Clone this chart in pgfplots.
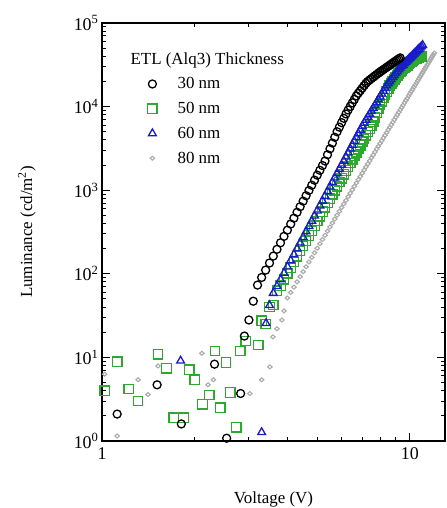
\documentclass[border=0pt]{standalone}
\usepackage{pgfplots}
\pgfplotsset{compat=1.18}
\usepackage{fontspec}
\setmainfont{Liberation Serif}
\definecolor{cgreen}{RGB}{45,170,45}
\definecolor{cblue}{RGB}{25,25,205}
\definecolor{cgray}{RGB}{170,170,170}
\begin{document}
\begin{tikzpicture}
\useasboundingbox (-102bp,-67bp) rectangle (345bp,441bp);
\begin{axis}[
  at={(0,0)}, anchor=south west,
  scale only axis, width=343bp, height=418bp,
  xmode=log, ymode=log,
  xmin=1, xmax=13, ymin=1, ymax=100000,
  xtick={1,10}, xticklabels={1,10},
  minor xtick={2,3,4,5,6,7,8,9},
  ytick={1,10,100,1000,10000,100000},
  yticklabels={10\textsuperscript{0},10\textsuperscript{1},10\textsuperscript{2},10\textsuperscript{3},10\textsuperscript{4},10\textsuperscript{5}},
  minor ytick={2,3,4,5,6,7,8,9,20,30,40,50,60,70,80,90,200,300,400,500,600,700,800,900,2000,3000,4000,5000,6000,7000,8000,9000,20000,30000,40000,50000,60000,70000,80000,90000},
  tick align=inside,
  major tick length=8bp, minor tick length=4.5bp,
  every tick/.style={black, line width=1bp},
  axis line style={line width=1.3bp},
  font=\fontsize{17}{20}\selectfont,
  ticklabel style={font=\fontsize{18}{20}\selectfont},
  xticklabel style={yshift=-3bp},
  xlabel={Voltage (V)},
  ylabel={Luminance (cd/m\textsuperscript{2})},
  xlabel style={at={(axis description cs:0.5,-0.139)}, anchor=center},
  ylabel style={at={(axis description cs:-0.219,0.5)}, anchor=center},
  legend image code/.code={\draw[mark repeat=2,mark phase=2,#1] plot coordinates {(0cm,0cm) (0.3cm,0cm) (0.6cm,0cm)}; \path (0cm,0cm) (1.11cm,0cm);},
  legend style={at={(axis description cs:0.121,0.935)}, anchor=north west, draw=none, fill=none, inner sep=0pt, row sep=8bp, font=\fontsize{17}{20}\selectfont, nodes={inner sep=2pt}},
  legend cell align=left,
]
% 80 nm (gray)
\addplot[only marks, mark=diamond, mark size=3bp, cgray, mark options={line width=1.1bp, yscale=0.65}, forget plot] coordinates {
(1.02,6.3) (1.12,1.15) (1.31,5.4) (1.41,3.6) (1.52,7.9) (2.11,11.2) (2.21,4.7) (2.30,5.4) (3.02,3.7) (3.30,5.4) (3.51,7.7) (3.59,17.6) (3.7,22) (3.84,28) (3.9,36)
(4.0,51.4) (4.1,59.8) (4.2,69.3) (4.3,80.2) (4.4,92.3) (4.5,105.9) (4.6,121.3) (4.7,138.4) (4.8,157.4) (4.9,178.6)
(5.0,202.3) (5.1,228.6) (5.2,257.0) (5.3,289.1) (5.4,324.3) (5.5,363.1) (5.6,405.5) (5.7,451.9) (5.8,502.3) (5.9,558.5)
(6.0,619.4) (6.1,685.5) (6.2,756.8) (6.3,835.6) (6.4,920.4) (6.5,1012) (6.6,1112) (6.7,1219) (6.8,1337) (6.9,1459)
(7.0,1596) (7.1,1742) (7.2,1897) (7.3,2065) (7.4,2244) (7.5,2438) (7.6,2642) (7.7,2864) (7.8,3105) (7.9,3350)
(8.0,3622) (8.1,3908) (8.2,4217) (8.3,4539) (8.4,4887) (8.5,5260) (8.6,5649) (8.7,6067) (8.8,6501) (8.9,6966)
(9.0,7464) (9.1,7980) (9.2,8551) (9.3,9141) (9.4,9750) (9.5,10400) (9.6,11090) (9.7,11830) (9.8,12590) (9.9,13400)
(10.0,14260) (10.1,15140) (10.2,16110) (10.3,17100) (10.4,18110) (10.5,19230) (10.6,20370) (10.7,21630) (10.8,22860) (10.9,24210)
(11.0,25590) (11.1,27040) (11.2,28580) (11.3,30200) (11.4,31840) (11.5,33650) (11.6,35480) (11.7,37410) (11.8,39450) (11.9,41500) (12.0,43650)
};
% 50 nm (green)
\addplot[only marks, mark=square, mark size=4.7bp, cgreen, mark options={line width=1.3bp}, forget plot] coordinates {
(1.02,4.0) (1.12,8.9) (1.22,4.2) (1.31,3.0) (1.52,10.9) (1.62,7.4) (1.71,1.9) (1.84,1.9) (1.92,7.1) (2.0,5.4)
(2.12,2.75) (2.23,3.55) (2.33,11.9) (2.42,2.5) (2.53,8.7) (2.61,3.8) (2.73,1.46) (2.81,11.9) (2.93,15.7) (3.22,14.1)
(3.30,27.5) (3.4,25) (3.5,40) (3.6,42.4) (3.7,63) (3.8,72.4) (3.9,85.7)
(4.0,101.2) (4.1,118.6) (4.2,138.4) (4.3,161.4) (4.4,187.1) (4.5,216.3) (4.6,249.5) (4.7,287.1) (4.8,328.1) (4.9,375.8)
(5.0,428.5) (5.1,486.4) (5.2,552) (5.3,623.7) (5.4,704.7) (5.5,792.5) (5.6,891.3) (5.7,1000) (5.8,1117) (5.9,1250)
(6.0,1393) (6.1,1549) (6.2,1722) (6.3,1910) (6.4,2113) (6.5,2339) (6.6,2576) (6.7,2844) (6.8,3126) (6.9,3436)
(7.0,3776) (7.1,4140) (7.2,4529) (7.3,4955) (7.4,5408) (7.5,5902) (7.6,6592) (7.7,7430) (7.8,8356) (7.9,9397)
(8.0,10540) (8.1,11530) (8.2,12620) (8.3,13800) (8.4,15070) (8.5,16440) (8.6,17910) (8.7,19010) (8.8,20090) (8.9,21230)
(9.0,22390) (9.1,23600) (9.2,24890) (9.3,26120) (9.4,27100) (9.5,28120) (9.6,29110) (9.7,30130) (9.8,31190) (9.9,32280)
(10.0,33420) (10.1,34590) (10.2,35730) (10.3,36480) (10.4,37070) (10.5,37670) (10.6,38280) (10.7,38820) (10.8,39450) (10.9,39990)
};
% 60 nm (blue)
\addplot[only marks, mark=triangle, mark size=4.5bp, cblue, mark options={line width=1.3bp}, forget plot] coordinates {
(1.80,9.1) (3.30,1.27) (3.41,25.6) (3.5,42) (3.6,58.7) (3.7,71.0) (3.8,85.3) (3.9,102.1)
(4.0,121.6) (4.1,144.2) (4.2,170.2) (4.3,200.4) (4.4,235) (4.5,274) (4.6,320) (4.7,371) (4.8,428) (4.9,494)
(5.0,569) (5.1,652) (5.2,745) (5.3,851) (5.4,968) (5.5,1099) (5.6,1245) (5.7,1406) (5.8,1585) (5.9,1786)
(6.0,2005) (6.1,2244) (6.2,2512) (6.3,2805) (6.4,3133) (6.5,3483) (6.6,3864) (6.7,4295) (6.8,4753) (6.9,5260)
(7.0,5808) (7.1,6368) (7.2,6918) (7.3,7516) (7.4,8166) (7.5,8851) (7.6,9594) (7.7,10380) (7.8,11220) (7.9,12140)
(8.0,13150) (8.1,14220) (8.2,15350) (8.3,16560) (8.4,17860) (8.5,18970) (8.6,20040) (8.7,21230) (8.8,22440) (8.9,23660)
(9.0,25000) (9.1,26360) (9.2,27800) (9.3,29240) (9.4,30410) (9.5,31550) (9.6,32810) (9.7,34120) (9.8,35400) (9.9,36730)
(10.0,38110) (10.1,39540) (10.2,41020) (10.3,42460) (10.4,44060) (10.5,45600) (10.6,47320) (10.7,48980) (10.8,50580) (10.9,52360) (11.0,54200)
};
% 30 nm (black)
\addplot[only marks, mark=o, mark size=4bp, black, mark options={line width=1.3bp}, forget plot] coordinates {
(1.12,2.1) (1.51,4.7) (1.81,1.6) (2.32,8.3) (2.54,1.08) (2.82,3.7) (2.9,18) (3.0,28) (3.1,47)
(3.2,73.3) (3.3,90.4) (3.4,110.7) (3.5,134.6) (3.6,162.9) (3.7,196.3) (3.8,235) (3.9,280.5)
(4.0,333) (4.1,394) (4.2,463) (4.3,544) (4.4,635) (4.5,740) (4.6,859) (4.7,993) (4.8,1146) (4.9,1318)
(5.0,1514) (5.1,1730) (5.2,1972) (5.3,2234) (5.4,2655) (5.5,3126) (5.6,3664) (5.7,4295) (5.8,5000) (5.9,5675)
(6.0,6427) (6.1,7244) (6.2,8166) (6.3,9100) (6.4,10050) (6.5,11090) (6.6,12190) (6.7,13430) (6.8,14490) (6.9,15520)
(7.0,16630) (7.1,17820) (7.2,19010) (7.3,20040) (7.4,20840) (7.5,21670) (7.6,22490) (7.7,23330) (7.8,24210) (7.9,25120)
(8.0,26000) (8.1,26850) (8.2,27730) (8.3,28580) (8.4,29510) (8.5,30410) (8.6,31330) (8.7,32280) (8.8,33270) (8.9,34200)
(9.0,35240) (9.1,36220) (9.2,37240) (9.3,38280)
};
\addlegendimage{empty legend}
\addlegendentry{\hspace*{-47bp}ETL (Alq3) Thickness}
\addlegendimage{only marks, mark=o, mark size=4bp, black, mark options={line width=1.3bp}}
\addlegendentry{30 nm}
\addlegendimage{only marks, mark=square, mark size=4.7bp, cgreen, mark options={line width=1.3bp}}
\addlegendentry{50 nm}
\addlegendimage{only marks, mark=triangle, mark size=4.5bp, cblue, mark options={line width=1.3bp}}
\addlegendentry{60 nm}
\addlegendimage{only marks, mark=diamond, mark size=3bp, cgray, mark options={line width=1.1bp, yscale=0.65}}
\addlegendentry{80 nm}
\end{axis}
\end{tikzpicture}
\end{document}
